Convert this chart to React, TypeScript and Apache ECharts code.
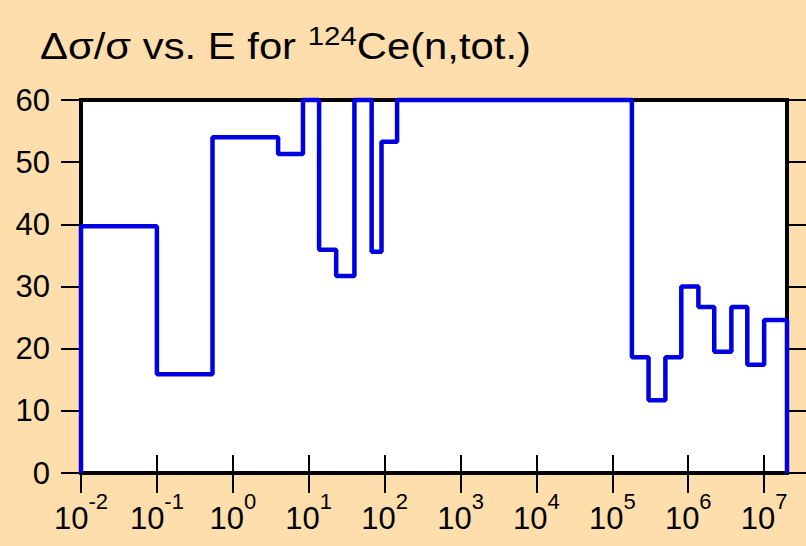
import React, { useEffect, useRef } from 'react';
import * as echarts from 'echarts';

// Bin edges (energy, eV) and relative uncertainty values (%) for each bin
const edges = [0.01, 0.1, 0.54, 3.95, 8.4, 13.7, 23, 40, 67.5, 91, 146, 1.81e5, 3.0e5, 5.0e5, 8.1e5, 1.36e6, 2.2e6, 3.7e6, 6.0e6, 1.0e7, 2e7];
const values = [39.7, 15.9, 54.0, 51.3, 60, 35.9, 31.7, 60, 35.6, 53.3, 60, 18.6, 11.7, 18.6, 30.0, 26.7, 19.5, 26.7, 17.4, 24.6];
const decadeTicks = [0.01, 0.1, 1, 10, 100, 1e3, 1e4, 1e5, 1e6, 1e7];
const yMin = 0;
const yMax = 60;
const yStep = 10;
const xMin = 0.01;
const xMax = 2e7;
const titleMain = 'Δσ/σ vs. E for ';
const titleSup = '124';
const titleTail = 'Ce(n,tot.)';

export default function App() {
  const ref = useRef<HTMLDivElement>(null);
  useEffect(() => {
    const chart = echarts.init(ref.current!, null, { renderer: 'svg' });
    const data: [number, number][] = [[edges[0], 0]];
    values.forEach((v, i) => data.push([edges[i], v]));
    data.push([edges[edges.length - 1], values[values.length - 1]]);
    data.push([edges[edges.length - 1], 0]);

    const font = '"Liberation Sans", Arial, sans-serif';
    const tickStyle = { color: '#000', width: 2 };

    const xAxisBase: any = {
      type: 'log',
      logBase: 10,
      min: xMin,
      max: xMax,
      axisLine: { show: false },
      splitLine: { show: false },
      minorTick: { show: false },
      minorSplitLine: { show: false },
    };

    chart.setOption({
      animation: false,
      backgroundColor: '#FFDEAD',
      grid: {
        left: 81,
        right: 19,
        top: 100,
        bottom: 73,
        show: true,
        backgroundColor: '#fff',
        borderColor: '#000',
        borderWidth: 4,
      },
      graphic: [
        {
          type: 'text',
          x: 40,
          y: 23,
          scaleX: 1.13,
          style: {
            text: '{m|' + titleMain + '}{s|' + titleSup + '}{m|' + titleTail + '}',
            font: '37px ' + font,
            fill: '#000',
            verticalAlign: 'top',
            rich: {
              m: { fontSize: 37, fontFamily: font, fill: '#000', lineHeight: 41, verticalAlign: 'bottom' },
              s: { fontSize: 26, fontFamily: font, fill: '#000', lineHeight: 28, verticalAlign: 'top' },
            },
          },
        },
      ],
      xAxis: [
        {
          ...xAxisBase,
          position: 'bottom',
          axisTick: { show: true, inside: false, length: 20, lineStyle: tickStyle, customValues: decadeTicks },
          axisLabel: {
            show: true,
            margin: 17,
            customValues: decadeTicks,
            formatter: (v: number) => '{b|10}{s|' + Math.round(Math.log10(v)) + '}',
            rich: {
              b: { fontSize: 31, fontFamily: font, color: '#000', lineHeight: 44, verticalAlign: 'bottom' },
              s: { fontSize: 22, fontFamily: font, color: '#000', lineHeight: 24, verticalAlign: 'top' },
            },
          },
        },
        {
          ...xAxisBase,
          position: 'top',
          axisTick: { show: true, inside: false, length: 18, lineStyle: tickStyle, customValues: decadeTicks },
          axisLabel: { show: false },
        },
      ],
      yAxis: [
        {
          type: 'value',
          min: yMin,
          max: yMax,
          interval: yStep,
          position: 'left',
          axisLine: { show: false },
          splitLine: { show: false },
          axisTick: { show: true, inside: false, length: 20, lineStyle: tickStyle },
          axisLabel: { margin: 31, fontSize: 31, fontFamily: font, color: '#000' },
        },
        {
          type: 'value',
          min: yMin,
          max: yMax,
          interval: yStep,
          position: 'right',
          axisLine: { show: false },
          splitLine: { show: false },
          axisTick: { show: true, inside: false, length: 19, lineStyle: tickStyle },
          axisLabel: { show: false },
        },
      ],
      series: [
        {
          type: 'line',
          xAxisIndex: 0,
          yAxisIndex: 0,
          step: 'end',
          data,
          showSymbol: false,
          symbol: 'none',
          clip: false,
          z: 5,
          lineStyle: { color: '#0000e0', width: 4.5 },
        },
      ],
    });
    return () => chart.dispose();
  }, []);
  return <div ref={ref} style={{ position: 'absolute', left: 0, top: 0, width: 806, height: 546 }} />;
}
